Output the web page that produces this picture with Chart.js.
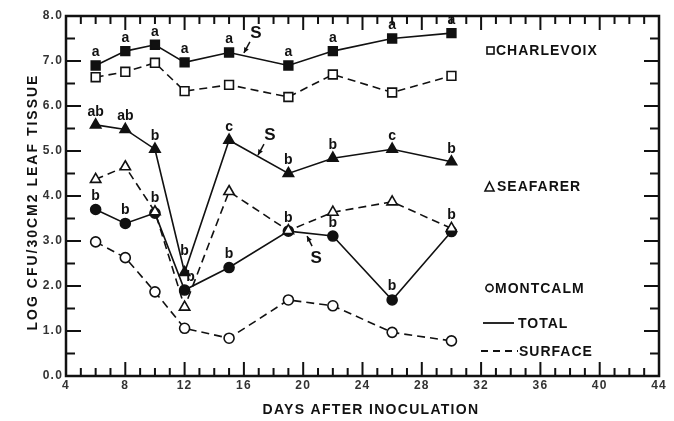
<!DOCTYPE html>
<html>
<head>
<meta charset="utf-8">
<script src="https://cdn.jsdelivr.net/npm/chart.js@4.4.0/dist/chart.umd.min.js"></script>
<style>
  body { margin: 0; background: #fff; }
  canvas { display: block; }
</style>
</head>
<body>
<canvas id="myChart" width="674" height="421"></canvas>
<script>
var days = [6, 8, 10, 12, 15, 19, 22, 26, 30];

var charlevoixTotal   = [6.90, 7.22, 7.36, 6.97, 7.19, 6.90, 7.22, 7.50, 7.62];
var charlevoixSurface = [6.64, 6.76, 6.96, 6.33, 6.47, 6.20, 6.70, 6.30, 6.67];
var seafarerTotal     = [5.58, 5.48, 5.04, 2.30, 5.24, 4.50, 4.84, 5.04, 4.76];
var seafarerSurface   = [4.37, 4.65, 3.65, 1.53, 4.10, 3.23, 3.64, 3.87, 3.28];
var montcalmTotal     = [3.70, 3.39, 3.62, 1.91, 2.41, 3.22, 3.11, 1.69, 3.21];
var montcalmSurface   = [2.98, 2.63, 1.87, 1.06, 0.84, 1.69, 1.56, 0.97, 0.78];

var charlevoixLetters = ['a', 'a', 'a', 'a', 'a', 'a', 'a', 'a', 'a'];
var seafarerLetters   = ['ab', 'ab', 'b', 'b', 'c', 'b', 'b', 'c', 'b'];
var montcalmLetters   = ['b', 'b', 'b', 'b', 'b', 'b', 'b', 'b', 'b'];

// "S" marks: [day of arrow tip, value at tip]
var sMarks = [[16.0, 7.18], [16.95, 4.91], [20.26, 3.11]];

var xTicks = [4, 8, 12, 16, 20, 24, 28, 32, 36, 40, 44];
var yTicks = [0, 1, 2, 3, 4, 5, 6, 7, 8];

var FONT = '"Liberation Sans", Arial, sans-serif';

function pts(vals) {
  return vals.map(function(v, i) { return { x: days[i], y: v }; });
}

function series(vals, style, filled, dashed) {
  return {
    data: pts(vals),
    borderColor: '#111',
    borderWidth: 1.6,
    borderDash: dashed ? [8, 5] : [],
    pointStyle: style,
    pointRadius: style === 'rect' ? 6.2 : (style === 'triangle' ? 6 : 5),
    pointBorderWidth: 1.6,
    pointBorderColor: '#111',
    pointBackgroundColor: filled ? '#111' : '#fff',
    tension: 0
  };
}

var framePlugin = {
  id: 'frame',
  beforeDraw: function(chart) {
    chart.ctx.letterSpacing = '1.2px';
  },
  afterDraw: function(chart) {
    var ctx = chart.ctx, a = chart.chartArea;
    var xs = chart.scales.x, ys = chart.scales.y;
    ctx.save();
    ctx.strokeStyle = '#111';
    ctx.lineWidth = 2;
    ctx.beginPath();
    for (var d = 4; d <= 44; d++) {
      var px = xs.getPixelForValue(d);
      var len = d % 4 === 0 ? 14 : 8;
      ctx.moveTo(px, a.bottom); ctx.lineTo(px, a.bottom - len);
      ctx.moveTo(px, a.top); ctx.lineTo(px, a.top + len);
    }
    for (var v = 0; v <= 8; v += 0.5) {
      var py = ys.getPixelForValue(v);
      var l2 = v % 1 === 0 ? 15 : 9;
      ctx.moveTo(a.left, py); ctx.lineTo(a.left + l2, py);
      ctx.moveTo(a.right, py); ctx.lineTo(a.right - l2, py);
    }
    ctx.stroke();
    ctx.lineWidth = 2.5;
    ctx.strokeRect(a.left, a.top, a.right - a.left, a.bottom - a.top);

    // significance letters
    ctx.fillStyle = '#111';
    ctx.font = 'bold 14px ' + FONT;
    ctx.textAlign = 'center';
    ctx.textBaseline = 'middle';
    ctx.letterSpacing = '0px';
    function letters(vals, labs, lift, dx) {
      vals.forEach(function(v, i) {
        var x = xs.getPixelForValue(days[i]) + (dx[i] || 0);
        var y = ys.getPixelForValue(v) - 13 - (lift[i] || 0);
        ctx.fillText(labs[i], x, y);
      });
    }
    letters(charlevoixTotal, charlevoixLetters, {}, {});
    letters(seafarerTotal, seafarerLetters, { 3: 8 }, {});
    letters(montcalmTotal, montcalmLetters, { 2: 2, 7: 1, 8: 3 }, { 3: 6 });

    // S arrows
    ctx.font = 'bold 17px ' + FONT;
    ctx.lineWidth = 1.5;
    sMarks.forEach(function(m, k) {
      var tx = xs.getPixelForValue(m[0]), ty = ys.getPixelForValue(m[1]);
      var up = k === 2;
      var sx = tx + (up ? 5 : 6), sy = ty + (up ? 10 : -11);
      ctx.beginPath(); ctx.moveTo(sx, sy); ctx.lineTo(tx, ty); ctx.stroke();
      var ang = Math.atan2(ty - sy, tx - sx);
      ctx.beginPath();
      ctx.moveTo(tx, ty);
      ctx.lineTo(tx - 6 * Math.cos(ang - 0.45), ty - 6 * Math.sin(ang - 0.45));
      ctx.lineTo(tx - 6 * Math.cos(ang + 0.45), ty - 6 * Math.sin(ang + 0.45));
      ctx.closePath(); ctx.fill();
      ctx.fillText('S', sx + (up ? 4 : 6), sy + (up ? 12 : -9));
    });

    // legend
    ctx.font = 'bold 14px ' + FONT;
    ctx.letterSpacing = '1px';
    ctx.textAlign = 'left';
    ctx.lineWidth = 1.6;
    ctx.fillStyle = '#111';
    ctx.strokeStyle = '#111';
    ctx.strokeRect(487, 47, 7, 7);
    ctx.fillText('CHARLEVOIX', 496, 51);
    ctx.beginPath();
    ctx.moveTo(489.5, 182); ctx.lineTo(494, 191); ctx.lineTo(485, 191); ctx.closePath();
    ctx.stroke();
    ctx.fillText('SEAFARER', 497, 187);
    ctx.beginPath(); ctx.arc(489.5, 288, 3.6, 0, Math.PI * 2); ctx.stroke();
    ctx.fillText('MONTCALM', 495, 289);
    ctx.lineWidth = 1.8;
    ctx.beginPath(); ctx.moveTo(483, 323); ctx.lineTo(514, 323); ctx.stroke();
    ctx.fillText('TOTAL', 518, 324);
    ctx.setLineDash([7, 5]);
    ctx.beginPath(); ctx.moveTo(481, 351); ctx.lineTo(518, 351); ctx.stroke();
    ctx.setLineDash([]);
    ctx.fillText('SURFACE', 519, 352);

    // axis titles
    ctx.font = 'bold 14px ' + FONT;
    ctx.letterSpacing = '1.3px';
    ctx.textAlign = 'center';
    ctx.fillText('DAYS AFTER INOCULATION', 371, 410);
    ctx.letterSpacing = '2px';
    ctx.translate(33, 202);
    ctx.rotate(-Math.PI / 2);
    ctx.fillText('LOG CFU/30CM2 LEAF TISSUE', 0, 0);
    ctx.restore();
  }
};

var ctx = document.getElementById('myChart');

var myChart = new Chart(ctx, {
  type: 'line',
  data: {
    datasets: [
      series(charlevoixSurface, 'rect', false, true),
      series(seafarerSurface, 'triangle', false, true),
      series(montcalmSurface, 'circle', false, true),
      series(charlevoixTotal, 'rect', true, false),
      series(seafarerTotal, 'triangle', true, false),
      series(montcalmTotal, 'circle', true, false)
    ]
  },
  options: {
    responsive: false,
    animation: false,
    layout: { padding: { left: 0, right: 15, top: 16, bottom: 0 } },
    plugins: { legend: { display: false }, tooltip: { enabled: false } },
    scales: {
      x: {
        type: 'linear', min: 4, max: 44,
        afterBuildTicks: function(s) { s.ticks = xTicks.map(function(v) { return { value: v }; }); },
        afterFit: function(s) { s.height = 45; },
        grid: { display: false, drawTicks: false },
        border: { display: false },
        ticks: { padding: 2, color: '#333', font: { family: FONT, size: 12, weight: 'bold' }, maxRotation: 0 }
      },
      y: {
        min: 0, max: 8,
        afterBuildTicks: function(s) { s.ticks = yTicks.map(function(v) { return { value: v }; }); },
        afterFit: function(s) { s.width = 66; },
        grid: { display: false, drawTicks: false },
        border: { display: false },
        ticks: {
          padding: 3, color: '#333', font: { family: FONT, size: 12, weight: 'bold' },
          callback: function(v) { return v.toFixed(1); }
        }
      }
    }
  },
  plugins: [framePlugin]
});
</script>
</body>
</html>
